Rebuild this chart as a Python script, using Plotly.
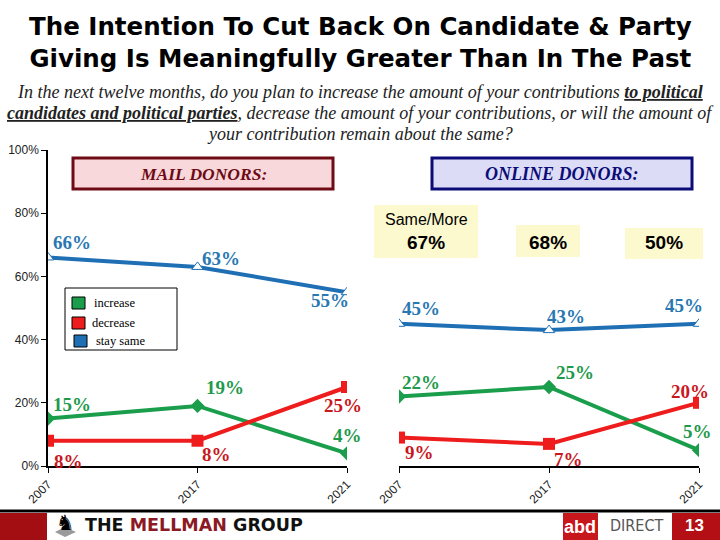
import plotly.graph_objects as go

# ---------------- data ----------------
years = ["2007", "2017", "2021"]
mail_increase = [15, 19, 4]
mail_decrease = [8, 8, 25]
mail_same = [66, 63, 55]
online_increase = [22, 25, 5]
online_decrease = [9, 7, 20]
online_same = [45, 43, 45]
same_more_totals = ["67%", "68%", "50%"]
y_tick_vals = [0, 20, 40, 60, 80, 100]
y_tick_text = ["0%", "20%", "40%", "60%", "80%", "100%"]

title_text = ("The Intention To Cut Back On Candidate &amp; Party<br>"
              "Giving Is Meaningfully Greater Than In The Past")
subtitle_lines = [
    "In the next twelve months, do you plan to increase the amount of your contributions <b><u>to political</u></b>",
    "<b><u>candidates and political parties</u></b>, decrease the amount of your contributions, or will the amount of",
    "your contribution remain about the same?",
]

# ---------------- styling ----------------
W, H = 720, 540
BLUE, GREEN, RED = "#1f6fb4", "#1a9e4c", "#ee1c1c"
BLUE_T, GREEN_T, RED_T = "#2a78b2", "#1f9a4c", "#c8181e"
SERIF = "Liberation Serif"
SANS = "Liberation Sans"


def px(x):
    return x / W


def py(y):
    return 1 - y / H


fig = go.Figure()

panels = [
    ("x", "y", mail_same, mail_increase, mail_decrease),
    ("x2", "y2", online_same, online_increase, online_decrease),
]
for xa, ya, same, inc, dec in panels:
    fig.add_trace(go.Scatter(x=years, y=same, xaxis=xa, yaxis=ya, mode="lines+markers",
                             line=dict(color=BLUE, width=4),
                             marker=dict(symbol="triangle-up", size=10, color="white",
                                         line=dict(width=1, color=BLUE)),
                             showlegend=False, hoverinfo="skip"))
    fig.add_trace(go.Scatter(x=years, y=inc, xaxis=xa, yaxis=ya, mode="lines+markers",
                             line=dict(color=GREEN, width=4),
                             marker=dict(symbol="diamond", size=11, color=GREEN),
                             showlegend=False, hoverinfo="skip"))
    fig.add_trace(go.Scatter(x=years, y=dec, xaxis=xa, yaxis=ya, mode="lines+markers",
                             line=dict(color=RED, width=4),
                             marker=dict(symbol="square", size=12, color=RED),
                             showlegend=False, hoverinfo="skip"))

annotations = []
# data labels: (axis, values, colour, offsets)
label_sets = [
    ("x", "y", mail_same, BLUE_T, [(24, 15), (23, 8), (-17, -8)]),
    ("x", "y", mail_increase, GREEN_T, [(24, 14), (27, 18), (0, 18)]),
    ("x", "y", mail_decrease, RED_T, [(20, -21), (19, -14), (-4, -18)]),
    ("x2", "y2", online_same, BLUE_T, [(22, 15), (17, 14), (-15, 18)]),
    ("x2", "y2", online_increase, GREEN_T, [(22, 14), (26, 15), (-2, 19)]),
    ("x2", "y2", online_decrease, RED_T, [(20, -15), (19, -16), (-9, 11)]),
]
for xa, ya, vals, col, offs in label_sets:
    for idx, (v, (dx, dy)) in enumerate(zip(vals, offs)):
        annotations.append(dict(x=idx, y=v, xref=xa, yref=ya, text=f"<b>{v}%</b>",
                                showarrow=False, xshift=dx, yshift=dy,
                                font=dict(family=SERIF, size=19, color=col)))

# title
annotations.append(dict(x=0.5, y=py(43), xref="paper", yref="paper", text=f"<b>{title_text}</b>",
                        showarrow=False, xanchor="center", yanchor="middle", align="center",
                        font=dict(family="DejaVu Sans", size=24.5, color="black")))
# subtitle
for t, yc in zip(subtitle_lines, [92, 113, 134]):
    annotations.append(dict(x=0.5, y=py(yc), xref="paper", yref="paper", text=f"<i>{t}</i>",
                            showarrow=False, xanchor="center", yanchor="middle",
                            font=dict(family=SERIF, size=18, color="#222")))

shapes = []
# donor boxes
for (x0, x1, fill, border, label, fs) in [(73, 333, "#f9d8dc", "#6e0b14", "MAIL DONORS:", 17.5),
                                           (432, 692, "#dcdcf6", "#0c0c78", "ONLINE DONORS:", 18)]:
    shapes.append(dict(type="rect", xref="paper", yref="paper", x0=px(x0), x1=px(x1),
                       y0=py(189), y1=py(158), fillcolor=fill, line=dict(color=border, width=3),
                       layer="below"))
    annotations.append(dict(x=px((x0 + x1) / 2), y=py(174), xref="paper", yref="paper",
                            text=f"<b><i>{label}</i></b>", showarrow=False,
                            xanchor="center", yanchor="middle",
                            font=dict(family=SERIF, size=fs, color=border)))

# yellow same/more boxes
ybox = [(374, 478, 205, 258), (516, 580, 225, 257), (625, 703, 228, 259)]
for (x0, x1, y0, y1), val in zip(ybox, same_more_totals):
    shapes.append(dict(type="rect", xref="paper", yref="paper", x0=px(x0), x1=px(x1),
                       y0=py(y1), y1=py(y0), fillcolor="#fdf9cf", line=dict(width=0),
                       layer="below"))
    annotations.append(dict(x=px((x0 + x1) / 2), y=py(243), xref="paper", yref="paper",
                            text=f"<b>{val}</b>", showarrow=False,
                            xanchor="center", yanchor="middle",
                            font=dict(family=SANS, size=19, color="black")))
annotations.append(dict(x=px(426), y=py(219), xref="paper", yref="paper", text="Same/More",
                        showarrow=False, xanchor="center", yanchor="middle",
                        font=dict(family=SANS, size=16, color="black")))

# legend box
shapes.append(dict(type="rect", xref="paper", yref="paper", x0=px(65), x1=px(177),
                   y0=py(350), y1=py(288), fillcolor="white", line=dict(color="black", width=1)))
for (sx, sy, col, txt, tx) in [(72, 297, GREEN, "increase", 92),
                               (72, 317, RED, "decrease", 90),
                               (74, 335, BLUE, "stay same", 94)]:
    shapes.append(dict(type="rect", xref="paper", yref="paper", x0=px(sx), x1=px(sx + 13),
                       y0=py(sy + 12), y1=py(sy), fillcolor=col, line=dict(color="black", width=1)))
    annotations.append(dict(x=px(tx), y=py(sy + 6), xref="paper", yref="paper", text=txt,
                            showarrow=False, xanchor="left", yanchor="middle",
                            font=dict(family=SERIF, size=12.5, color="black")))

# footer
shapes.append(dict(type="line", xref="paper", yref="paper", x0=0, x1=1, y0=py(511), y1=py(511),
                   line=dict(color="black", width=3)))
shapes.append(dict(type="rect", xref="paper", yref="paper", x0=0, x1=px(47), y0=0, y1=py(513),
                   fillcolor="#a30e13", line=dict(width=0)))
shapes.append(dict(type="rect", xref="paper", yref="paper", x0=px(563), x1=px(598), y0=0, y1=py(513),
                   fillcolor="#c8161d", line=dict(width=0)))
shapes.append(dict(type="rect", xref="paper", yref="paper", x0=px(672), x1=1, y0=0, y1=py(513),
                   fillcolor="#b30f14", line=dict(width=0)))
shapes.append(dict(type="path", xref="paper", yref="paper",
                   path=f"M {px(55)},{py(532)} L {px(65)},{py(527)} L {px(76)},{py(532)} L {px(65)},{py(537)} Z",
                   fillcolor="#9a9a9a", line=dict(width=0)))
annotations += [
    dict(x=px(65), y=py(523), xref="paper", yref="paper", text="♞", showarrow=False,
         xanchor="center", yanchor="middle",
         font=dict(family="DejaVu Sans", size=21, color="black")),
    dict(x=px(83), y=py(525), xref="paper", yref="paper", xanchor="left", yanchor="middle",
         text="<b>THE <span style='color:#8b1a24'>MELLMAN</span> GROUP</b>", showarrow=False,
         font=dict(family="DejaVu Sans", size=17.5, color="#111")),
    dict(x=px(580), y=py(527), xref="paper", yref="paper", text="<b>abd</b>", showarrow=False,
         xanchor="center", yanchor="middle",
         font=dict(family=SANS, size=18, color="white")),
    dict(x=px(636), y=py(525), xref="paper", yref="paper", text="DIRECT", showarrow=False,
         xanchor="center", yanchor="middle",
         font=dict(family="DejaVu Sans Condensed", size=16, color="#555")),
    dict(x=px(694), y=py(525), xref="paper", yref="paper", text="<b>13</b>", showarrow=False,
         xanchor="center", yanchor="middle",
         font=dict(family=SANS, size=17, color="white")),
]

ydom = [py(466), py(150)]
common_x = dict(type="category", range=[0, 2], showgrid=False, showline=True, linecolor="black",
                linewidth=1.5, ticks="outside", ticklen=5, tickcolor="black", tickangle=-45,
                tickfont=dict(family=SANS, size=12, color="#222"), zeroline=False,
                automargin=False)

fig.update_layout(
    width=W, height=H, autosize=False,
    margin=dict(l=0, r=0, t=0, b=0, pad=0),
    plot_bgcolor="rgba(0,0,0,0)", paper_bgcolor="white",
    xaxis=dict(domain=[px(48), px(347)], anchor="y", **common_x),
    xaxis2=dict(domain=[px(399), px(699)], anchor="y2", **common_x),
    yaxis=dict(domain=ydom, range=[0, 100], anchor="x", tickvals=y_tick_vals, ticktext=y_tick_text,
               showgrid=False, showline=True, linecolor="black", linewidth=1.5, ticks="outside",
               ticklen=5, tickcolor="black", zeroline=False, automargin=False,
               tickfont=dict(family=SANS, size=12, color="#222")),
    yaxis2=dict(domain=ydom, range=[0, 100], anchor="x2", visible=False),
    shapes=shapes,
    annotations=annotations,
)

fig.write_html("out.html", config={"displayModeBar": False},
               post_script="document.body.style.margin='0px';document.body.style.padding='0px';")
